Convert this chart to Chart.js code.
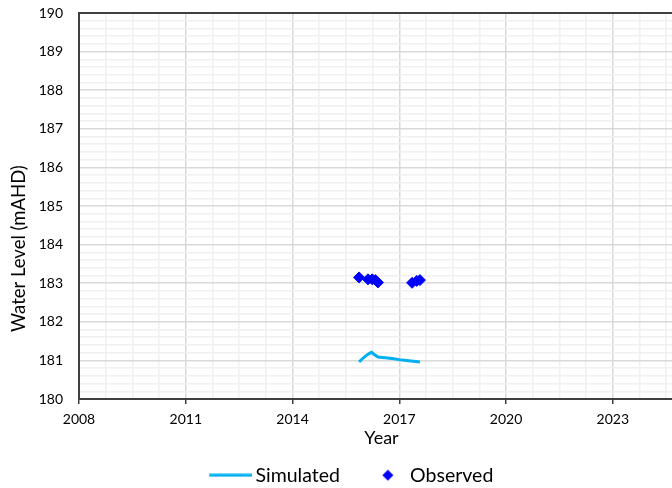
<!DOCTYPE html>
<html><head><meta charset="utf-8">
<script src="https://cdn.jsdelivr.net/npm/chart.js@4/dist/chart.umd.min.js"></script>
<style>
html,body{margin:0;padding:0;overflow:hidden;background:#fff;width:672px;height:488px}
#wrap{width:704px;height:495px}
</style></head>
<body><div id="wrap"><canvas id="c" width="704" height="495"></canvas></div>
<script>
// ---- data ----
const simYears  = [2015.87, 2015.95, 2016.05, 2016.15, 2016.22, 2016.30, 2016.40, 2016.60, 2016.80, 2017.00, 2017.20, 2017.40, 2017.58];
const simLevels = [180.96, 181.03, 181.11, 181.18, 181.21, 181.15, 181.09, 181.07, 181.05, 181.02, 181.00, 180.98, 180.96];
const obsYears  = [2015.87, 2016.12, 2016.24, 2016.33, 2016.40, 2017.36, 2017.49, 2017.58];
const obsLevels = [183.15, 183.10, 183.10, 183.08, 183.02, 183.01, 183.06, 183.08];
const xTickLabels = ['2008', '2011', '2014', '2017', '2020', '2023'];
const yTickLabels = ['180','181','182','183','184','185','186','187','188','189','190'];
const seriesNames = ['Simulated', 'Observed'];
const xAxisTitle = 'Year';
const yAxisTitle = 'Water Level (mAHD)';

// ---- config ----
const X_MIN = 2008, X_MAX = 2025, X_MAJOR = 3, X_MINOR = 0.75;
const Y_MIN = 180, Y_MAX = 190, Y_MINOR = 0.2;
const FONT = 'Lato';
const SIM_COLOR = '#00B0F0', OBS_COLOR = '#0000FF', AXIS_COLOR = '#404040';

const near = (a, b) => Math.abs(a - b) < 1e-6;
const isXMajor = v => near((v - X_MIN) / X_MAJOR, Math.round((v - X_MIN) / X_MAJOR));
const isYMajor = v => near(v, Math.round(v));

function makeTicks(min, max, step) {
  const t = []; const n = Math.floor((max - min) / step + 1e-6);
  for (let i = 0; i <= n; i++) t.push({ value: +(min + i * step).toFixed(4) });
  return t;
}

// legend key images
const lineImg = document.createElement('canvas');
lineImg.width = 68; lineImg.height = 4;
{ const g = lineImg.getContext('2d'); g.fillStyle = SIM_COLOR; g.fillRect(25, 0.5, 43, 3); }
const diaImg = document.createElement('canvas');
diaImg.width = 52; diaImg.height = 12;
{ const g = diaImg.getContext('2d'); g.fillStyle = OBS_COLOR; g.beginPath();
  const cx = 41, cy = 6, r = 5.5;
  g.moveTo(cx, cy - r); g.lineTo(cx + r, cy); g.lineTo(cx, cy + r); g.lineTo(cx - r, cy); g.closePath(); g.fill(); }

// top frame line of the plot area
const topFrame = {
  id: 'topFrame',
  afterDraw(chart) {
    const { ctx, chartArea: a } = chart;
    ctx.save(); ctx.strokeStyle = AXIS_COLOR; ctx.lineWidth = 2;
    ctx.beginPath(); ctx.moveTo(a.left - 1, a.top); ctx.lineTo(a.right, a.top); ctx.stroke();
    ctx.restore();
  }
};

new Chart(document.getElementById('c'), {
  type: 'scatter',
  plugins: [topFrame],
  data: {
    datasets: [
      {
        label: seriesNames[0], type: 'line',
        data: simYears.map((x, i) => ({ x, y: simLevels[i] })),
        borderColor: SIM_COLOR, backgroundColor: SIM_COLOR, borderWidth: 3,
        pointRadius: 0, tension: 0, fill: false
      },
      {
        label: seriesNames[1],
        data: obsYears.map((x, i) => ({ x, y: obsLevels[i] })),
        pointStyle: 'rectRot', pointRadius: 5.5, pointHoverRadius: 5.5,
        backgroundColor: OBS_COLOR, borderColor: OBS_COLOR, borderWidth: 1, showLine: false
      }
    ]
  },
  options: {
    responsive: false, animation: false,
    layout: { padding: { top: 13, right: 20, left: 0, bottom: 0 } },
    plugins: {
      tooltip: { enabled: false },
      legend: {
        position: 'bottom',
        labels: {
          usePointStyle: true, pointStyleWidth: 55, padding: 5.5,
          color: '#000', font: { family: FONT, size: 19.5 },
          generateLabels(chart) {
            const items = Chart.defaults.plugins.legend.labels.generateLabels(chart);
            items.forEach(it => { it.pointStyle = it.text === seriesNames[0] ? lineImg : diaImg; });
            return items;
          }
        }
      }
    },
    scales: {
      x: {
        type: 'linear', position: 'bottom', min: X_MIN, max: X_MAX,
        afterBuildTicks: s => { s.ticks = makeTicks(X_MIN, X_MAX, X_MINOR); },
        afterFit: s => { s.height = 61; },
        ticks: {
          autoSkip: false, maxRotation: 0, padding: 7, color: '#000',
          font: { family: FONT, size: 14 },
          callback: v => {
            if (!isXMajor(v)) return '';
            const lbl = String(Math.round(v));
            return xTickLabels.includes(lbl) ? lbl : '';
          }
        },
        grid: {
          color: c => isXMajor(c.tick.value) ? '#d9d9d9' : '#f0f0f0',
          lineWidth: 1.5, tickLength: 5,
          tickColor: c => isXMajor(c.tick.value) ? AXIS_COLOR : 'rgba(0,0,0,0)',
          tickWidth: 1.5
        },
        border: { display: true, color: AXIS_COLOR, width: 2 },
        title: { display: true, text: xAxisTitle, color: '#000', font: { family: FONT, size: 18 }, padding: { top: 0, bottom: 10.8 } }
      },
      y: {
        type: 'linear', min: Y_MIN, max: Y_MAX,
        afterBuildTicks: s => { s.ticks = makeTicks(Y_MIN, Y_MAX, Y_MINOR); },
        afterFit: s => { s.width = 79; s.paddingTop = 0; s.paddingBottom = 0; },
        ticks: {
          autoSkip: false, padding: 16, color: '#000',
          font: { family: FONT, size: 14 },
          callback: v => {
            if (!isYMajor(v)) return '';
            const lbl = String(Math.round(v));
            return yTickLabels.includes(lbl) ? lbl : '';
          }
        },
        grid: {
          color: c => isYMajor(c.tick.value) ? '#d9d9d9' : '#f0f0f0',
          lineWidth: 1.5, drawTicks: false
        },
        border: { display: true, color: AXIS_COLOR, width: 2 },
        title: { display: true, text: yAxisTitle + ' '.repeat(18), color: '#000', font: { family: FONT, size: 18.5 }, padding: { top: 8, bottom: 0 } }
      }
    }
  }
});
</script>
</body></html>
